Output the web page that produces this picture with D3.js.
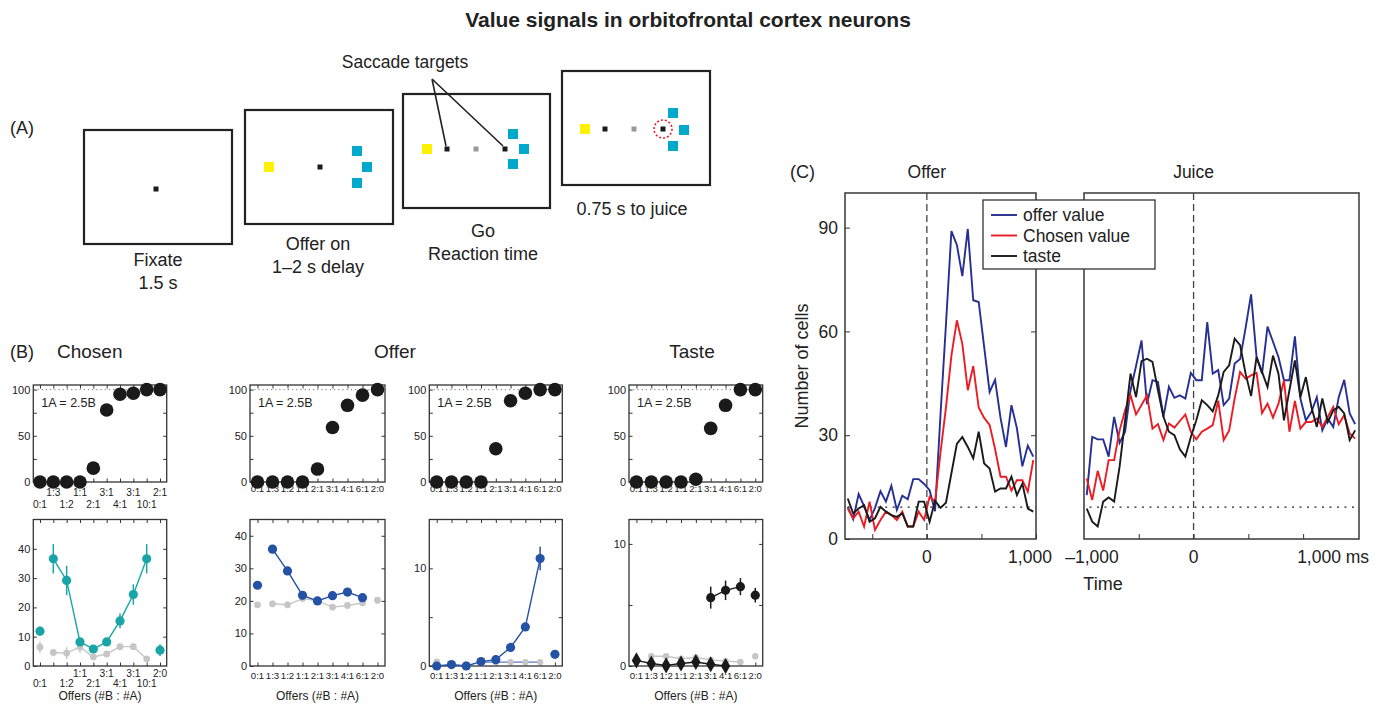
<!DOCTYPE html>
<html>
<head>
<meta charset="utf-8">
<script src="https://cdn.jsdelivr.net/npm/d3@7"></script>
<style>
body { margin: 0; background: #fff; }
svg { font-family: Arial, "Liberation Sans", Helvetica, sans-serif; }
</style>
</head>
<body>
<svg id="svg" width="1376" height="705"></svg>
<script>
// ---------- panel B data ----------
const chosenLabelsTop = ["0:1", "1:3", "1:2", "1:1", "2:1", "3:1", "4:1", "3:1", "10:1", "2:1"];
const chosenLabelsBottom = ["0:1", "", "1:2", "1:1", "2:1", "3:1", "4:1", "3:1", "10:1", "2:0"];
const offerLabels = ["0:1", "1:3", "1:2", "1:1", "2:1", "3:1", "4:1", "6:1", "2:0"];

const chosenChoice = [0, 0, 0, 0, 15, 78, 95, 96, 100, 100];
const chosenResp = [11.9, 36.6, 29.2, 8.2, 5.8, 8.2, 15.4, 24.4, 36.6, 5.4];
const chosenRespErr = [1.5, 5, 5, 1.2, 1.2, 1.2, 2.5, 3.5, 5, 2];
const chosenCtrl = [6.4, 4.6, 4.4, 6.5, 3.1, 4.1, 6.6, 6.6, 2.4, null];
const chosenCtrlErr = [2, 0.5, 2, 2, 0.8, 1, 0.8, 0.8, 0.6, 0];

const offer1Choice = [0, 0, 0, 0, 14, 59, 83, 94, 100];
const offer1Resp = [24.8, 35.9, 29.2, 21.7, 20, 21.6, 22.7, 21, null];
const offer1RespErr = [0.8, 0.8, 0.8, 0.8, 0.8, 0.8, 0.8, 0.8, 0];
const offer1Ctrl = [18.8, 19.1, 18.8, 20.7, 20, 18.1, 18.6, 19.4, 20.2];
const offer1CtrlErr = [0.6, 1, 1, 1, 0.8, 1, 1, 0.8, 1];

const offer2Choice = [0, 0, 0, 0, 36, 88, 96, 100, 100];
const offer2Resp = [0, 0.15, 0, 0.45, 0.65, 1.9, 4, 11, 1.2];
const offer2RespErr = [0.1, 0.1, 0.1, 0.1, 0.1, 0.2, 0.3, 1.2, 0.2];
const offer2Ctrl = [0.45, 0.2, 0.15, 0.4, 0.4, 0.4, 0.4, 0.4, null];

const tasteChoice = [0, 0, 0, 0, 3, 58, 83, 100, 100];
const tasteResp = [null, null, null, null, null, 5.6, 6.2, 6.5, 5.8];
const tasteRespErr = [0, 0, 0, 0, 0, 0.9, 0.8, 0.7, 0.6];
const tasteResp2 = [0.46, 0.2, 0.05, 0.2, 0.33, 0.14, 0, null, null];
const tasteCtrl = [null, 0.8, 0.8, 0.6, 0.7, 0.5, 0.4, 0.33, 0.8];

// ---------- panel C data (bin centres, ms) ----------
const offerTimes = [-725, -675, -625, -575, -525, -475, -425, -375, -325, -275, -225, -175, -125, -75, -25,
  25, 75, 125, 175, 225, 275, 325, 375, 425, 475, 525, 575, 625, 675, 725, 775, 825, 875, 925, 975];
const offerBlue = [9.3, 5.7, 13, 9.5, 5.5, 9, 13.8, 10.8, 15.4, 8.4, 12.5, 11.5, 17.3, 17.3, 15.9, 14.1, 8, 36, 62,
  89, 85, 76, 89.6, 69, 68.5, 55.5, 42.5, 46, 35, 26.6, 38.7, 32, 21, 27, 23.8];
const offerRed = [8.8, 6, 7.9, 3.6, 10.8, 2.6, 5.5, 7.9, 6.9, 5.5, 7.9, 3.6, 3.6, 7.9, 5.5, 12.2, 10.8, 25, 38,
  53, 63.2, 56.4, 43, 50, 38, 35, 33, 26, 18, 18, 14, 17, 17, 13.7, 22.8];
const offerBlack = [11.7, 7.4, 8.8, 9.8, 5, 6, 9.3, 7.9, 6.9, 6.4, 7.4, 3.6, 3.6, 10.8, 10.8, 5, 11, 9, 10.5,
  19, 27.5, 29.5, 26.6, 23.3, 31, 21.8, 20.4, 13.7, 14.6, 14.6, 18, 12.7, 16, 8.8, 7.9];

const juiceTimes = [-975, -925, -875, -825, -775, -725, -675, -625, -575, -525, -475, -425, -375, -325, -275,
  -225, -175, -125, -75, -25, 25, 75, 125, 175, 225, 275, 325, 375, 425, 475, 525, 575, 625, 675, 725,
  775, 825, 875, 925, 975, 1025, 1075, 1125, 1175, 1225, 1275, 1325, 1375, 1425, 1475];
const juiceBlue = [12.7, 29.5, 28.8, 28.8, 23.8, 35.3, 27.8, 31, 43, 50,
  57.4, 39, 45.9, 45.4, 35.3, 44, 40.8, 41.5, 40.6, 48,
  45.9, 45.9, 62.7, 47.8, 48.8, 38.7, 40.6, 50.7, 52, 61,
  70.7, 52.6, 47.8, 61.4, 57, 52.6, 45.9, 45.9, 58.6, 40.6,
  34.3, 36.7, 41, 31.4, 34.8, 32.4, 41, 46, 36.3, 33.2];
const juiceRed = [17.5, 11.3, 19.7, 14, 22.8, 22.8, 31.4, 37.2, 41.5, 36,
  38.7, 41.5, 31.9, 33.2, 28.6, 33.4, 32.2, 34.1, 36, 31,
  28.8, 31, 31.9, 32.9, 40, 28.6, 31.4, 40.6, 48.3, 46.3,
  47.3, 48, 36.4, 39.1, 35.1, 39.1, 45.9, 31, 39.9, 31.9,
  33.8, 33.8, 34.8, 32.4, 35.3, 38.2, 33.2, 35.8, 30.5, 29];
const juiceBlack = [8.8, 5, 3.6, 10.8, 12, 10.8, 20.9, 34.3, 47.8, 41,
  51.4, 52.1, 51.2, 43, 35.3, 31, 30, 25.9, 23.8, 29.5,
  34.3, 40.1, 38.7, 36.9, 41.5, 48.3, 50.2, 57.9, 56, 47.8,
  41.3, 52.6, 48.3, 43.9, 53, 47.8, 34.3, 43, 51.6, 41,
  46.8, 38.2, 32.4, 40.6, 33.8, 37.2, 38.2, 36.3, 28.6, 31.4];
const threshold = 9.2;
const legendNames = ["offer value", "Chosen value", "taste"];

// ---------- colours ----------
const teal = "#19a5a7", blueB = "#2452a4", grey = "#c6c6c6", dark = "#1a1a1a";
const cBlue = "#262f92", cRed = "#ec1c24", cBlack = "#1a1a1a";

const svg = d3.select("#svg");

svg.append("text").attr("x", 688).attr("y", 27).attr("text-anchor", "middle")
  .attr("font-size", 21).attr("font-weight", "bold").attr("fill", "#222")
  .text("Value signals in orbitofrontal cortex neurons");

// ================= panel A =================
svg.append("text").attr("x", 10).attr("y", 134).attr("font-size", 18).attr("fill", "#222").text("(A)");

const screens = [
  {x: 84, y: 130, w: 148, h: 114,
   items: [{t: "dot", x: 156, y: 189}],
   labels: [{x: 158, y: 266, s: "Fixate"}, {x: 158, y: 289, s: "1.5 s"}]},
  {x: 245, y: 110, w: 148, h: 114,
   items: [{t: "yel", x: 269, y: 167}, {t: "dot", x: 320, y: 167},
           {t: "cyan", x: 357, y: 151}, {t: "cyan", x: 367, y: 167}, {t: "cyan", x: 357, y: 183}],
   labels: [{x: 318, y: 250, s: "Offer on"}, {x: 318, y: 273, s: "1\u20132 s delay"}]},
  {x: 403, y: 94, w: 147, h: 114,
   items: [{t: "yel", x: 427, y: 149}, {t: "dot", x: 447, y: 149}, {t: "gdot", x: 476, y: 149},
           {t: "dot", x: 505, y: 149}, {t: "cyan", x: 513, y: 134}, {t: "cyan", x: 524, y: 149},
           {t: "cyan", x: 513, y: 164}],
   labels: [{x: 483, y: 237, s: "Go"}, {x: 483, y: 260, s: "Reaction time"}]},
  {x: 562, y: 71, w: 148, h: 114,
   items: [{t: "yel", x: 585, y: 129}, {t: "dot", x: 605, y: 129}, {t: "gdot", x: 634, y: 129},
           {t: "dot", x: 663, y: 129}, {t: "ring", x: 663, y: 129}, {t: "cyan", x: 673, y: 113},
           {t: "cyan", x: 684, y: 130}, {t: "cyan", x: 673, y: 146}],
   labels: [{x: 632, y: 215, s: "0.75 s to juice"}]}
];

screens.forEach(s => {
  const g = svg.append("g");
  g.append("rect").attr("x", s.x).attr("y", s.y).attr("width", s.w).attr("height", s.h)
    .attr("fill", "#fff").attr("stroke", "#222").attr("stroke-width", 2.2);
  s.items.forEach(it => {
    if (it.t === "ring") {
      g.append("circle").attr("cx", it.x).attr("cy", it.y).attr("r", 9)
        .attr("fill", "none").attr("stroke", "#e8202a").attr("stroke-width", 1.6).attr("stroke-dasharray", "2,2");
      return;
    }
    const size = (it.t === "yel" || it.t === "cyan") ? 10 : 5;
    const col = it.t === "yel" ? "#fff200" : it.t === "cyan" ? "#00a8cc" : it.t === "gdot" ? "#999" : "#1a1a1a";
    g.append("rect").attr("x", it.x - size / 2).attr("y", it.y - size / 2)
      .attr("width", size).attr("height", size).attr("fill", col);
  });
  s.labels.forEach(l => {
    g.append("text").attr("x", l.x).attr("y", l.y).attr("text-anchor", "middle")
      .attr("font-size", 18).attr("fill", "#222").text(l.s);
  });
});

svg.append("text").attr("x", 405).attr("y", 68).attr("text-anchor", "middle")
  .attr("font-size", 17.5).attr("fill", "#222").text("Saccade targets");
svg.append("path").attr("d", "M432,79 L446,146 M432,79 L503,146")
  .attr("fill", "none").attr("stroke", "#222").attr("stroke-width", 1.6);

// ================= panel B =================
svg.append("text").attr("x", 10).attr("y", 358).attr("font-size", 18).attr("fill", "#222").text("(B)");
svg.append("text").attr("x", 57).attr("y", 358).attr("font-size", 19).attr("fill", "#222").text("Chosen");
svg.append("text").attr("x", 395).attr("y", 358).attr("text-anchor", "middle").attr("font-size", 19).attr("fill", "#222").text("Offer");
svg.append("text").attr("x", 692).attr("y", 358).attr("text-anchor", "middle").attr("font-size", 19).attr("fill", "#222").text("Taste");

const topY0 = 482, topY1 = 385, botY0 = 666, botY1 = 519.5;

const bPanels = [
  {left: 33.3, right: 166.7, labelsTop: chosenLabelsTop, labelsBot: chosenLabelsBottom, twoRow: true,
   choice: chosenChoice, yMax: 50, yTicks: [0, 10, 20, 30, 40], yLabels: [0, 10, 20, 30, 40],
   series: [
     {values: chosenCtrl, err: chosenCtrlErr, color: grey, r: 3.4, link: [1, 8]},
     {values: chosenResp, err: chosenRespErr, color: teal, r: 4.6, link: [1, 8]}]},
  {left: 250, right: 385, labelsTop: offerLabels, labelsBot: offerLabels,
   choice: offer1Choice, yMax: 45, yTicks: [0, 10, 20, 30, 40], yLabels: [0, 10, 20, 30, 40],
   series: [
     {values: offer1Ctrl, err: offer1CtrlErr, color: grey, r: 3.4, link: [1, 7]},
     {values: offer1Resp, err: offer1RespErr, color: blueB, r: 4.6, link: [1, 7]}]},
  {left: 429.3, right: 562.3, labelsTop: offerLabels, labelsBot: offerLabels,
   choice: offer2Choice, yMax: 15, yTicks: [0, 5, 10], yLabels: [0, 10],
   series: [
     {values: offer2Ctrl, err: null, color: grey, lineColor: "#5b79c2", r: 3.2, link: [3, 7]},
     {values: offer2Resp, err: offer2RespErr, color: blueB, r: 4.6, link: [0, 7]}]},
  {left: 629, right: 762.7, labelsTop: offerLabels, labelsBot: offerLabels,
   choice: tasteChoice, yMax: 12, yTicks: [0, 5, 10], yLabels: [0, 10],
   series: [
     {values: tasteCtrl, err: null, color: grey, r: 3.2, link: [1, 7]},
     {values: tasteResp2, err: null, color: dark, shape: "diamond", link: [0, 6]},
     {values: tasteResp, err: tasteRespErr, color: dark, r: 4.6, link: [5, 7]}]}
];

function tickStyle(g, fs) {
  g.select(".domain").remove();
  g.selectAll(".tick line").attr("stroke", "#333").attr("stroke-width", 1);
  g.selectAll(".tick text").attr("font-size", fs).attr("fill", "#222").attr("font-family", null);
}

function xLabels(g, x, labels, baseY, rowGap, fs) {
  g.selectAll(null).data(labels).join("text")
    .attr("x", (d, i) => x(i))
    .attr("y", (d, i) => rowGap ? (i % 2 === 1 ? baseY : baseY + rowGap) : baseY)
    .attr("text-anchor", "middle").attr("font-size", fs).attr("fill", "#222")
    .text(d => d);
}

function drawSeries(g, x, y, s) {
  const line = d3.line()
    .defined((d, i) => d != null && i >= s.link[0] && i <= s.link[1])
    .x((d, i) => x(i)).y(d => y(d));
  g.append("path").datum(s.values).attr("d", line)
    .attr("fill", "none").attr("stroke", s.lineColor || s.color).attr("stroke-width", 1.4);
  const pts = s.values.map((v, i) => ({v, i, e: s.err ? s.err[i] : 0})).filter(d => d.v != null);
  g.selectAll(null).data(pts.filter(d => d.e > 0)).join("line")
    .attr("x1", d => x(d.i)).attr("x2", d => x(d.i))
    .attr("y1", d => y(d.v - d.e)).attr("y2", d => y(d.v + d.e))
    .attr("stroke", s.color).attr("stroke-width", 1.5);
  if (s.shape === "diamond") {
    g.selectAll(null).data(pts).join("path")
      .attr("transform", d => `translate(${x(d.i)},${y(d.v)})`)
      .attr("d", d3.symbol(d3.symbolDiamond, 75))
      .attr("fill", s.color);
  } else {
    g.selectAll(null).data(pts).join("circle")
      .attr("cx", d => x(d.i)).attr("cy", d => y(d.v)).attr("r", s.r)
      .attr("fill", s.color);
  }
}

bPanels.forEach(p => {
  const n = p.labelsTop.length;
  const x = d3.scalePoint().domain(d3.range(n)).range([p.left, p.right]).padding(0.5);
  const fs = p.twoRow ? 10.2 : 9.6;

  // choice curve (top)
  const yT = d3.scaleLinear().domain([0, 105]).range([topY0, topY1]);
  const gt = svg.append("g");
  gt.append("rect").attr("x", p.left).attr("y", topY1).attr("width", p.right - p.left).attr("height", topY0 - topY1)
    .attr("fill", "none").attr("stroke", "#333").attr("stroke-width", 1.3);
  gt.append("line").attr("x1", p.left).attr("x2", p.right).attr("y1", yT(100)).attr("y2", yT(100))
    .attr("stroke", "#777").attr("stroke-width", 1).attr("stroke-dasharray", "1.2,3");
  gt.append("g").attr("transform", `translate(${p.left},0)`)
    .call(d3.axisLeft(yT).tickValues([0, 25, 50, 75, 100]).tickSize(-3.5).tickPadding(3)
      .tickFormat(d => d % 50 === 0 ? d : ""))
    .call(g => tickStyle(g, 11));
  gt.append("g").attr("transform", `translate(${p.right},0)`)
    .call(d3.axisRight(yT).tickValues([25, 50, 75]).tickSize(-3.5).tickFormat(""))
    .call(g => tickStyle(g, 11));
  gt.append("g").attr("transform", `translate(0,${topY1})`)
    .call(d3.axisTop(x).tickSize(-3.5).tickFormat(""))
    .call(g => tickStyle(g, 11));
  gt.append("g").attr("transform", `translate(0,${topY0})`)
    .call(d3.axisBottom(x).tickSize(-3.5).tickFormat(""))
    .call(g => tickStyle(g, 11));
  xLabels(gt, x, p.labelsTop, p.twoRow ? 496 : 492, p.twoRow ? 12 : 0, fs);
  gt.append("text").attr("x", p.left + 8).attr("y", 407).attr("font-size", 12.5).attr("fill", "#222").text("1A = 2.5B");
  gt.selectAll(null).data(p.choice).join("circle")
    .attr("cx", (d, i) => x(i)).attr("cy", d => yT(d)).attr("r", 6.8).attr("fill", dark);

  // neuronal response (bottom)
  const yB = d3.scaleLinear().domain([0, p.yMax]).range([botY0, botY1]);
  const gb = svg.append("g");
  gb.append("rect").attr("x", p.left).attr("y", botY1).attr("width", p.right - p.left).attr("height", botY0 - botY1)
    .attr("fill", "none").attr("stroke", "#333").attr("stroke-width", 1.3);
  gb.append("g").attr("transform", `translate(${p.left},0)`)
    .call(d3.axisLeft(yB).tickValues(p.yTicks).tickSize(-3.5).tickPadding(3)
      .tickFormat(d => p.yLabels.includes(d) ? d : ""))
    .call(g => tickStyle(g, 11));
  gb.append("g").attr("transform", `translate(${p.right},0)`)
    .call(d3.axisRight(yB).tickValues(p.yTicks.filter(d => d > 0)).tickSize(-3.5).tickFormat(""))
    .call(g => tickStyle(g, 11));
  gb.append("g").attr("transform", `translate(0,${botY1})`)
    .call(d3.axisTop(x).tickSize(-3.5).tickFormat(""))
    .call(g => tickStyle(g, 11));
  gb.append("g").attr("transform", `translate(0,${botY0})`)
    .call(d3.axisBottom(x).tickSize(-3.5).tickFormat(""))
    .call(g => tickStyle(g, 11));
  xLabels(gb, x, p.labelsBot, p.twoRow ? 677 : 679, p.twoRow ? 10 : 0, fs);
  p.series.forEach(s => drawSeries(gb, x, yB, s));
  gb.append("text").attr("x", (p.left + p.right) / 2).attr("y", 700).attr("text-anchor", "middle")
    .attr("font-size", 12).attr("fill", "#222").text("Offers (#B : #A)");
});

// ================= panel C =================
const cTop = 193, cBot = 539;
const yC = d3.scaleLinear().domain([0, 100]).range([cBot, cTop]);
const xOffer = d3.scaleLinear().domain([-750, 1000]).range([845, 1036]);
const xJuice = d3.scaleLinear().domain([-1000, 1510]).range([1084, 1359]);

svg.append("text").attr("x", 790).attr("y", 178).attr("font-size", 18).attr("fill", "#222").text("(C)");

const cPanels = [
  {name: "Offer", x: xOffer, times: offerTimes, lines: [offerBlue, offerRed, offerBlack], thr: [-725, 1000],
   ticks: [-500, 0, 500, 1000], labels: [{v: 0, s: "0", dx: 0}, {v: 1000, s: "1,000", dx: -6}], clip: "clipOffer"},
  {name: "Juice", x: xJuice, times: juiceTimes, lines: [juiceBlue, juiceRed, juiceBlack], thr: [-950, 1480],
   ticks: [-500, 0, 500, 1000], labels: [{v: -1000, s: "\u20131,000", dx: 8}, {v: 0, s: "0", dx: 0}, {v: 1000, s: "1,000 ms", dx: 30}], clip: "clipJuice"}
];
const lineColors = [cBlue, cRed, cBlack];

const defs = svg.append("defs");
cPanels.forEach(p => {
  const [x0, x1] = p.x.range();
  defs.append("clipPath").attr("id", p.clip).append("rect")
    .attr("x", x0).attr("y", cTop).attr("width", x1 - x0).attr("height", cBot - cTop);

  const g = svg.append("g");
  g.append("text").attr("x", p.x(0)).attr("y", 178).attr("text-anchor", "middle")
    .attr("font-size", 17.5).attr("fill", "#222").text(p.name);

  // threshold & event lines
  g.append("line").attr("x1", p.x(p.thr[0])).attr("x2", p.x(p.thr[1]))
    .attr("y1", yC(threshold)).attr("y2", yC(threshold))
    .attr("stroke", "#222").attr("stroke-width", 1.1).attr("stroke-dasharray", "2,5.5");
  g.append("line").attr("x1", p.x(0)).attr("x2", p.x(0)).attr("y1", cTop).attr("y2", cBot)
    .attr("stroke", "#444").attr("stroke-width", 1.3).attr("stroke-dasharray", "7,4");

  const lg = g.append("g").attr("clip-path", `url(#${p.clip})`);
  p.lines.forEach((vals, k) => {
    lg.append("path").datum(vals)
      .attr("d", d3.line().x((d, i) => p.x(p.times[i])).y(d => yC(d)))
      .attr("fill", "none").attr("stroke", lineColors[k]).attr("stroke-width", 1.9)
      .attr("stroke-linejoin", "miter");
  });

  g.append("rect").attr("x", x0).attr("y", cTop).attr("width", x1 - x0).attr("height", cBot - cTop)
    .attr("fill", "none").attr("stroke", "#444").attr("stroke-width", 1.6);

  g.append("g").attr("transform", `translate(0,${cBot})`)
    .call(d3.axisBottom(p.x).tickValues(p.ticks).tickSize(-5).tickFormat(""))
    .call(s => tickStyle(s, 17));
  g.selectAll(null).data(p.labels).join("text")
    .attr("x", d => p.x(d.v) + d.dx).attr("y", 563).attr("text-anchor", "middle")
    .attr("font-size", 17.5).attr("fill", "#222").text(d => d.s);
});

// y axis of the offer panel (labels left, inward ticks on both sides)
svg.append("g").attr("transform", `translate(${xOffer.range()[0]},0)`)
  .call(d3.axisLeft(yC).tickValues([0, 30, 60, 90]).tickSize(-5).tickPadding(7))
  .call(g => tickStyle(g, 17.5));
svg.append("g").attr("transform", `translate(${xOffer.range()[1]},0)`)
  .call(d3.axisRight(yC).tickValues([30, 60, 90]).tickSize(-5).tickFormat(""))
  .call(g => tickStyle(g, 17));

svg.append("text").attr("transform", "translate(808,366) rotate(-90)").attr("text-anchor", "middle")
  .attr("font-size", 18).attr("fill", "#222").text("Number of cells");
svg.append("text").attr("x", 1103).attr("y", 590).attr("text-anchor", "middle")
  .attr("font-size", 18).attr("fill", "#222").text("Time");

// legend
const leg = svg.append("g").attr("transform", "translate(983,200)");
leg.append("rect").attr("width", 172).attr("height", 69).attr("fill", "#fff")
  .attr("stroke", "#333").attr("stroke-width", 1.3);
legendNames.forEach((name, k) => {
  const yy = 15 + k * 20.5;
  leg.append("line").attr("x1", 8).attr("x2", 34).attr("y1", yy).attr("y2", yy)
    .attr("stroke", lineColors[k]).attr("stroke-width", 1.9);
  leg.append("text").attr("x", 40).attr("y", yy + 6).attr("font-size", 17.5).attr("fill", "#222").text(name);
});
</script>
</body>
</html>
